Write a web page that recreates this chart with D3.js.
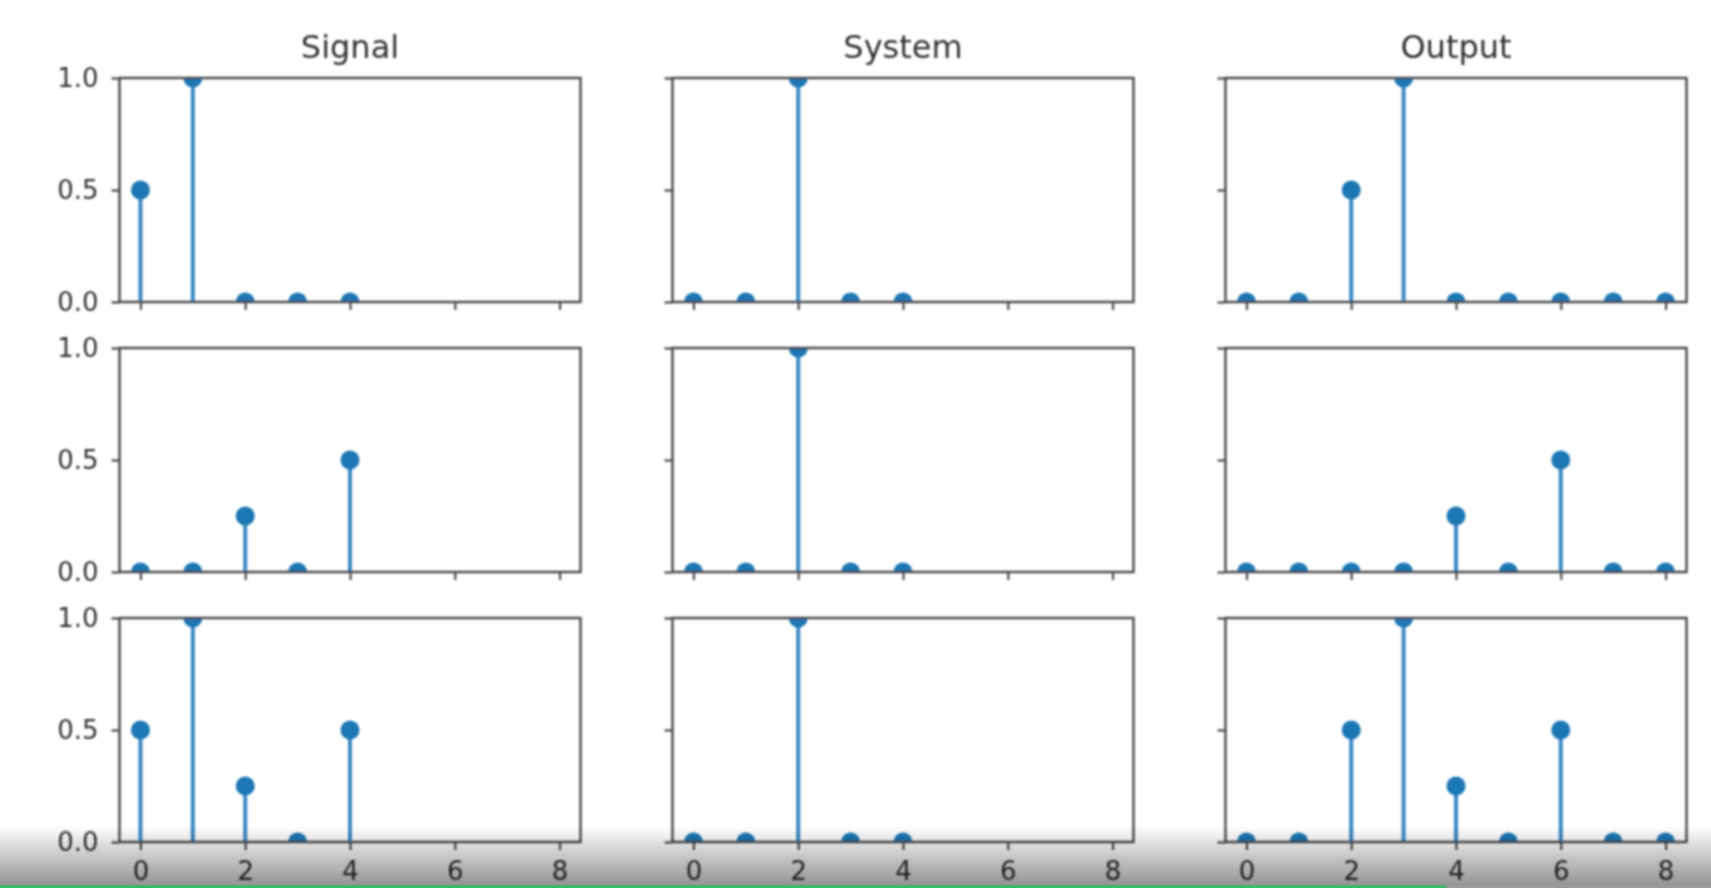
<!DOCTYPE html>
<html>
<head>
<meta charset="utf-8">
<script src="https://cdn.jsdelivr.net/npm/d3@7"></script>
<style>
  html, body { margin: 0; padding: 0; background: #ffffff; }
  svg { display: block; }
</style>
</head>
<body>
<svg id="chart" width="1711" height="888"></svg>
<script>
// ---------- data ----------
const columnTitles = ["Signal", "System", "Output"];
const xTicks = [0, 2, 4, 6, 8];
const yTicks = [0.0, 0.5, 1.0];
const yTickLabels = ["0.0", "0.5", "1.0"];

const signalRow1 = [0.5, 1, 0, 0, 0];
const systemRow1 = [0, 0, 1, 0, 0];
const outputRow1 = [0, 0, 0.5, 1, 0, 0, 0, 0, 0];

const signalRow2 = [0, 0, 0.25, 0, 0.5];
const systemRow2 = [0, 0, 1, 0, 0];
const outputRow2 = [0, 0, 0, 0, 0.25, 0, 0.5, 0, 0];

const signalRow3 = [0.5, 1, 0.25, 0, 0.5];
const systemRow3 = [0, 0, 1, 0, 0];
const outputRow3 = [0, 0, 0.5, 1, 0.25, 0, 0.5, 0, 0];

const panels = [
  [signalRow1, systemRow1, outputRow1],
  [signalRow2, systemRow2, outputRow2],
  [signalRow3, systemRow3, outputRow3]
];

// ---------- layout ----------
const colLeft = [119.5, 672.5, 1225.5];
const rowTop = [78, 348, 618];
const pw = 461, ph = 224;
const blue = "#1f77b4";
const axisColor = "#474747";
const textColor = "#333333";
const font = "'DejaVu Sans', sans-serif";

const svg = d3.select("#chart");
const defs = svg.append("defs");
defs.append("filter").attr("id", "soft")
  .attr("x", "-5%").attr("y", "-5%").attr("width", "110%").attr("height", "110%")
  .append("feGaussianBlur").attr("stdDeviation", 0.8);

const x = d3.scaleLinear().domain([-0.4, 8.4]).range([0, pw]);
const y = d3.scaleLinear().domain([0, 1]).range([ph, 0]);

const root = svg.append("g").attr("filter", "url(#soft)");

panels.forEach((row, r) => {
  row.forEach((vals, c) => {
    const g = root.append("g").attr("transform", `translate(${colLeft[c]},${rowTop[r]})`);
    const clipId = `clip-${r}-${c}`;
    defs.append("clipPath").attr("id", clipId)
      .append("rect").attr("x", 0).attr("y", 0).attr("width", pw).attr("height", ph);

    // axes (ticks)
    const yAxis = d3.axisLeft(y).tickValues(yTicks).tickSize(8).tickPadding(13)
      .tickFormat((d, i) => c === 0 ? yTickLabels[i] : "");
    const ya = g.append("g").call(yAxis);
    const xAxis = d3.axisBottom(x).tickValues(xTicks).tickSize(8).tickPadding(12)
      .tickFormat(d => r === 2 ? String(d) : "");
    const xa = g.append("g").attr("transform", `translate(0,${ph})`).call(xAxis);
    [ya, xa].forEach(a => {
      a.select(".domain").remove();
      a.selectAll(".tick line").attr("stroke", axisColor).attr("stroke-width", 2.2);
      a.selectAll(".tick text").attr("fill", textColor)
        .style("font-family", font).style("font-size", "26px");
    });

    // stems + markers
    const data = vals.map((v, i) => ({ i, v }));
    const marks = g.append("g").attr("clip-path", `url(#${clipId})`);
    marks.selectAll("line.stem").data(data).join("line")
      .attr("class", "stem")
      .attr("x1", d => x(d.i)).attr("x2", d => x(d.i))
      .attr("y1", y(0)).attr("y2", d => y(d.v))
      .attr("stroke", "#3a88c4").attr("stroke-width", 4);
    marks.selectAll("circle").data(data).join("circle")
      .attr("cx", d => x(d.i)).attr("cy", d => y(d.v)).attr("r", 9.5)
      .attr("fill", blue);

    // spines
    g.append("rect").attr("x", 0).attr("y", 0).attr("width", pw).attr("height", ph)
      .attr("fill", "none").attr("stroke", axisColor).attr("stroke-width", 2.4);

    if (r === 0) {
      g.append("text").attr("x", pw / 2).attr("y", -20)
        .attr("text-anchor", "middle").attr("fill", textColor)
        .style("font-family", font).style("font-size", "32px")
        .text(columnTitles[c]);
    }
  });
});

// ---------- bottom video-player overlay ----------
const grad = defs.append("linearGradient").attr("id", "shade")
  .attr("x1", 0).attr("y1", 0).attr("x2", 0).attr("y2", 1);
grad.append("stop").attr("offset", "0%").attr("stop-color", "#000").attr("stop-opacity", 0);
grad.append("stop").attr("offset", "100%").attr("stop-color", "#000").attr("stop-opacity", 0.42);
svg.append("rect").attr("x", 0).attr("y", 826).attr("width", 1711).attr("height", 59)
  .attr("fill", "url(#shade)");
svg.append("rect").attr("x", 0).attr("y", 885).attr("width", 1446).attr("height", 3)
  .attr("fill", "#3cb96a");
svg.append("rect").attr("x", 1446).attr("y", 885).attr("width", 265).attr("height", 3)
  .attr("fill", "#9a9a9a");
</script>
</body>
</html>
